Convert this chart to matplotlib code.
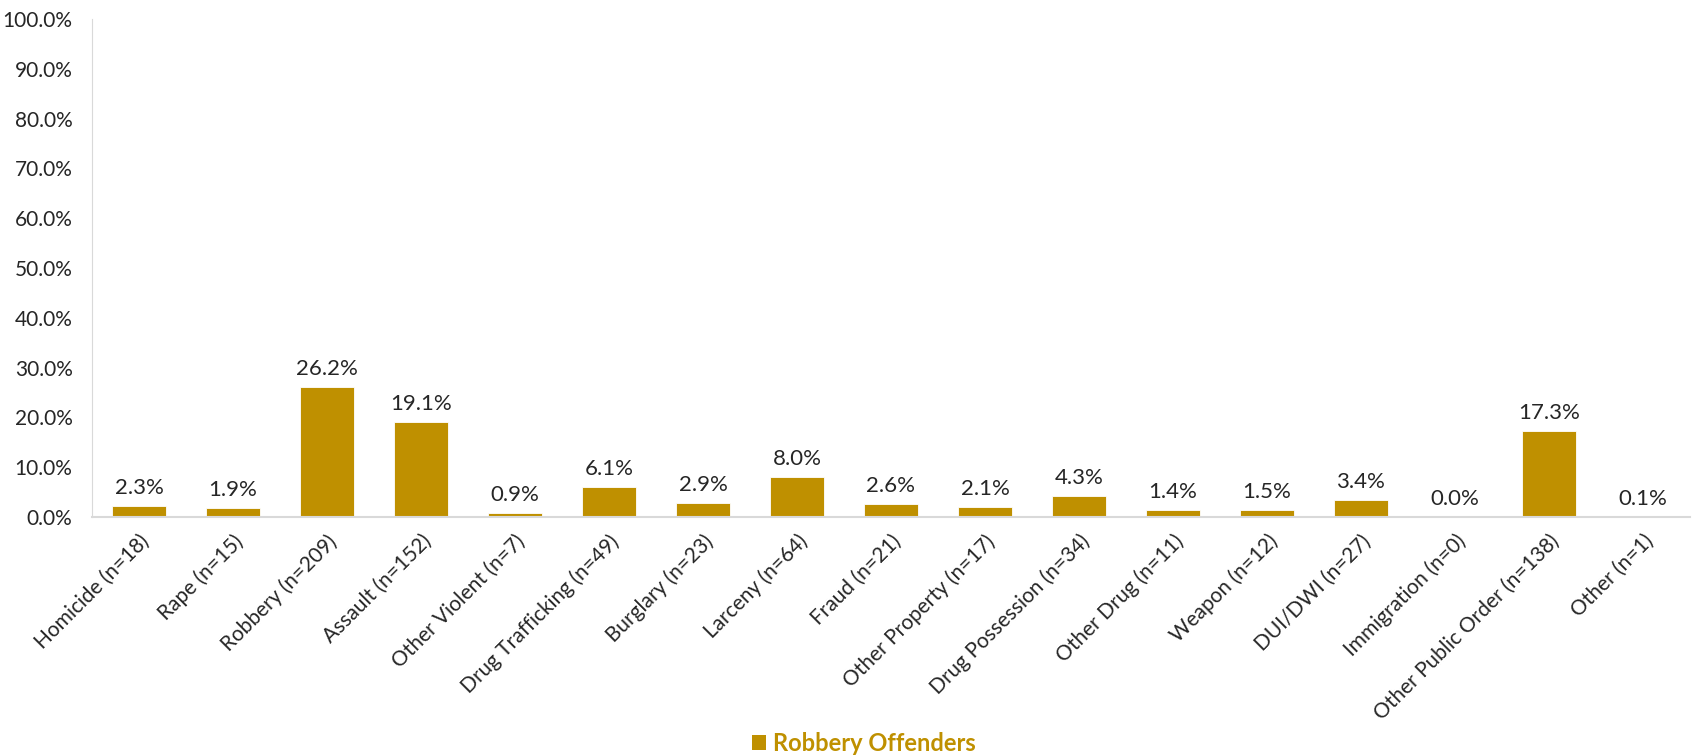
import matplotlib
matplotlib.use('Agg')
import matplotlib.pyplot as plt
from matplotlib.ticker import FuncFormatter, MultipleLocator
from matplotlib.patches import Patch

plt.rcParams['font.family'] = ['Lato', 'DejaVu Sans']

# offense categories and share of robbery offenders
categories = ['Homicide (n=18)', 'Rape (n=15)', 'Robbery (n=209)', 'Assault (n=152)',
              'Other Violent (n=7)', 'Drug Trafficking (n=49)', 'Burglary (n=23)',
              'Larceny (n=64)', 'Fraud (n=21)', 'Other Property (n=17)',
              'Drug Possession (n=34)', 'Other Drug (n=11)', 'Weapon (n=12)',
              'DUI/DWI (n=27)', 'Immigration (n=0)', 'Other Public Order (n=138)',
              'Other (n=1)']
percents = [2.3, 1.9, 26.2, 19.1, 0.9, 6.1, 2.9, 8.0, 2.6, 2.1, 4.3, 1.4, 1.5, 3.4, 0.0, 17.3, 0.1]

gold = '#BF9000'
grey = '#D9D9D9'

fig = plt.figure(figsize=(16.94, 7.56), dpi=100)
ax = fig.add_axes([0.0543, 0.316, 0.9433, 0.659])

x = range(len(categories))
bars = ax.bar(x, percents, width=0.57, color=gold, edgecolor='white', linewidth=0.6)

for i, v in enumerate(percents):
    ax.text(i, v + 1.6, f'{v:.1f}%', ha='center', va='bottom', fontsize=16, color='#262626')

ax.set_xlim(-0.5, len(categories) - 0.5)
ax.set_ylim(0, 100)
ax.yaxis.set_major_locator(MultipleLocator(10))
ax.yaxis.set_major_formatter(FuncFormatter(lambda v, p: f'{v:.1f}%'))
ax.set_xticks(list(x))
ax.set_xticklabels(categories, rotation=45, ha='right', rotation_mode='anchor', fontsize=15, color='#262626')
ax.tick_params(axis='y', labelsize=15, colors='#262626', length=0, pad=14)
ax.tick_params(axis='x', length=0, pad=10)

for side in ['top', 'right']:
    ax.spines[side].set_visible(False)
ax.spines['left'].set_color(grey)
ax.spines['bottom'].set_color(grey)
ax.spines['bottom'].set_linewidth(1.5)

handle = Patch(facecolor=gold, label='Robbery Offenders')
leg = fig.legend(handles=[handle], loc='center', bbox_to_anchor=(0.51, 0.017), frameon=False,
                 handlelength=0.6, handleheight=0.6, handletextpad=0.3,
                 prop={'size': 17, 'weight': 'bold'})
for t in leg.get_texts():
    t.set_color(gold)

fig.savefig('out.png', dpi=100)
